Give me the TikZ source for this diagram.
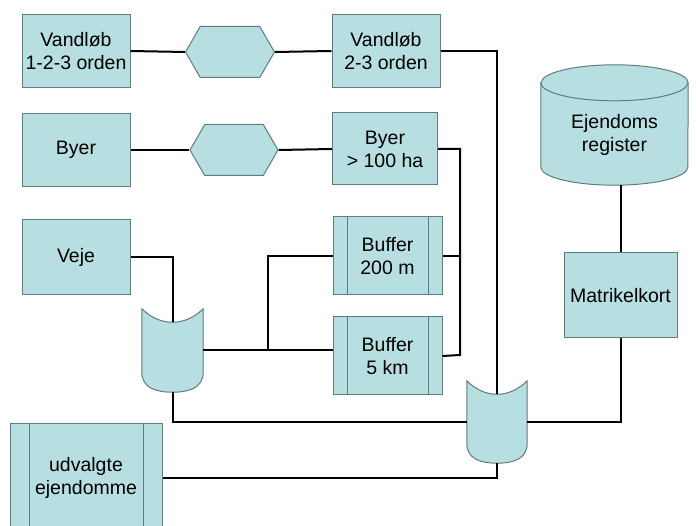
\documentclass[tikz,border=0pt]{standalone}
\usepackage{fontspec}
\setmainfont{Liberation Sans}
\usetikzlibrary{positioning, shapes.symbols, calc, backgrounds}

\definecolor{boxfill}{RGB}{183,223,225}
\definecolor{boxedge}{RGB}{96,124,126}

% drum shape (concave top, round bottom) around a node
\newcommand{\drumshape}[1]{%
  \draw[boxline] (#1.north west)
    .. controls ($(#1.north west)!0.3!(#1.north east)+(0,18)$) and ($(#1.north west)!0.7!(#1.north east)+(0,18)$) .. (#1.north east)
    -- ($(#1.south east)+(0,-20)$)
    .. controls ($(#1.south east)+(0,-4)$) and ($(#1.south)+(16,0)$) .. (#1.south)
    .. controls ($(#1.south)+(-16,0)$) and ($(#1.south west)+(0,-4)$) .. ($(#1.south west)+(0,-20)$)
    -- cycle;
  \coordinate (#1 top) at ($(#1.north)+(0,13.5)$);}

\begin{document}
\begin{tikzpicture}[
    x=1pt, y=-1pt,
    font=\fontsize{19.5}{23}\selectfont,
    boxline/.style={draw=boxedge, fill=boxfill, line width=1pt},
    box/.style={boxline, rectangle, minimum width=108pt, minimum height=73pt, align=center, inner sep=2pt},
    procbox/.style={box, path picture={
        \draw[boxedge, line width=1pt] ([xshift=#1]path picture bounding box.north west) -- ([xshift=#1]path picture bounding box.south west);
        \draw[boxedge, line width=1pt] ([xshift=-#1]path picture bounding box.north east) -- ([xshift=-#1]path picture bounding box.south east);}},
    hexbox/.style={boxline, signal, signal to=east and west, signal pointer angle=120, minimum width=89pt, minimum height=51pt, inner sep=0pt},
    drumbox/.style={rectangle, minimum width=61pt, minimum height=83pt, inner sep=0pt},
    link/.style={draw=black, line width=2pt}
]
\clip (0,0) rectangle (696,526);
\useasboundingbox (0,0) rectangle (696,526);

% inputs
\node[box] (vl1) at (76,51) {Vandløb\\1-2-3 orden};
\node[hexbox] (hex1) at (230,52) {};
\node[box] (vl2) at (386,51) {Vandløb\\2-3 orden};

\node[box] (byer) at (76,150) {Byer};
\node[hexbox, minimum width=88pt] (hex2) at (234,150) {};
\node[box, minimum width=105pt, minimum height=72pt] (byer100) at (385,149) {Byer\\> 100 ha};

\node[box, minimum height=75pt] (veje) at (76,257) {Veje};

% buffers
\node[procbox=14pt, minimum width=109pt, minimum height=78pt] (buf200) at (387.5,256) {Buffer\\200 m};
\node[procbox=14pt, minimum width=109pt, minimum height=78pt] (buf5) at (387.5,356) {Buffer\\5 km};

% merges
\node[drumbox] (mrg1) at (172.5,350.5) {};
\drumshape{mrg1}
\node[drumbox, minimum width=60pt, minimum height=82pt] (mrg2) at (497,422) {};
\drumshape{mrg2}

% register
\node[rectangle, minimum width=147pt, minimum height=100pt, align=center, inner sep=0pt] (ejd) at (614.5,135) {Ejendoms\\register};
\begin{scope}[on background layer]
\draw[boxline] ($(ejd.north west)+(0,-2)$) -- ($(ejd.south west)+(0,-18)$)
    arc[start angle=180, end angle=0, x radius=73.5, y radius=18]
    -- ($(ejd.north east)+(0,-2)$)
    arc[start angle=0, end angle=-180, x radius=73.5, y radius=18] -- cycle;
\draw[boxedge, line width=1pt] ($(ejd.north west)+(0,-2)$) arc[start angle=180, end angle=0, x radius=73.5, y radius=18];
\end{scope}
\node[box, minimum width=113pt, minimum height=85pt] (matr) at (620.5,295.5) {Matrikelkort};

% result
\node[procbox=19pt, minimum width=152pt, minimum height=110pt] (udv) at (86,478) {udvalgte\\ejendomme};

% connectors
\draw[link] (vl1.east) -- (hex1.west);
\draw[link] (hex1.east) -- (vl2.west);
\draw[link] (byer.east) -- (hex2.west);
\draw[link] (hex2.east) -- (byer100.west);

\coordinate (busR) at (460,355);
\draw[link] (byer100.east) -| (busR) -- (buf5.east);
\draw[link] (buf200.east) -- (buf200.east -| busR);

\draw[link] (veje.east) -| (mrg1 top);
\coordinate (busL) at (268,351);
\draw[link] (mrg1.east) -- (mrg1.east -| buf5.west);
\draw[link] (busL) |- (buf200.west);

\draw[link] (vl2.east) -| (mrg2 top);
\draw[link] (mrg1.south) |- (mrg2.west);
\draw[link] (mrg2.east) -| (matr.south);
\draw[link] (matr.north) -- (matr.north |- ejd.south);
\draw[link] (mrg2.south) |- (udv.east);

\end{tikzpicture}
\end{document}
